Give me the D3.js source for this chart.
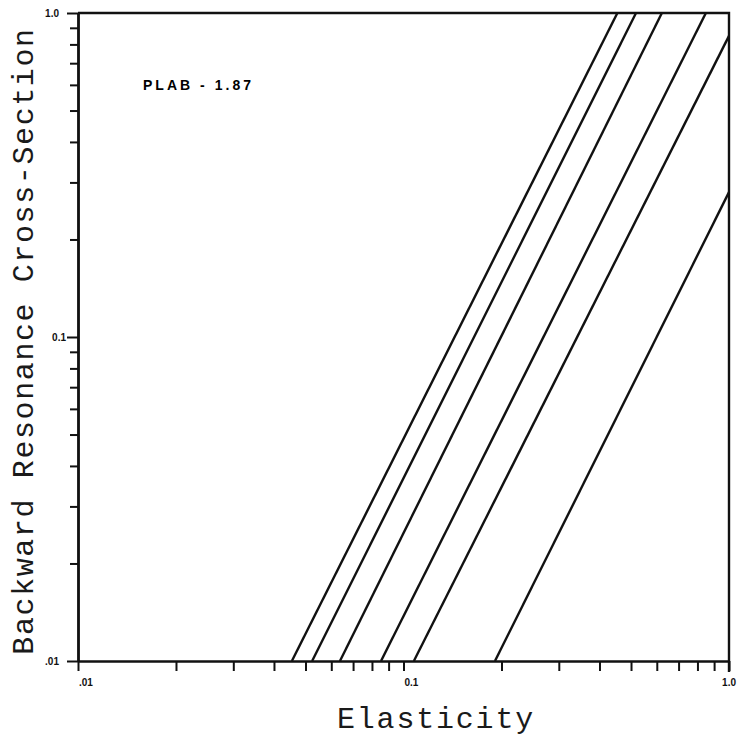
<!DOCTYPE html>
<html>
<head>
<meta charset="utf-8">
<script src="https://cdnjs.cloudflare.com/ajax/libs/d3/7.8.5/d3.min.js"></script>
<style>
  body { margin: 0; background: #fff; }
  .aText { font-family: 'Liberation Mono', monospace; fill: #1a1a1a; }
  .tickText { font-family: 'Liberation Sans', Arial, sans-serif; font-weight: bold; font-size: 10px; fill: #111; }
</style>
</head>
<body>
<div id="chart"></div>
<script>
// line endpoints: [elasticity, cross-section]
var lineNames = ['a', 'b', 'c', 'd', 'e', 'f'];
var lineStarts = [[0.0454, 0.01], [0.0524, 0.01], [0.0638, 0.01], [0.0853, 0.01], [0.1076, 0.01], [0.191, 0.01]];
var lineEnds = [[0.454, 1.0], [0.518, 1.0], [0.622, 1.0], [0.849, 1.0], [1.0, 0.85], [1.0, 0.28]];

var majorTicks = [0.01, 0.1, 1.0];
var minorTicks = [0.02, 0.03, 0.04, 0.05, 0.06, 0.07, 0.08, 0.09, 0.2, 0.3, 0.4, 0.5, 0.6, 0.7, 0.8, 0.9];
var xTickLabels = ['.01', '0.1', '1.0'];
var yTickLabels = ['.01', '0.1', '1.0'];

var svgWidth = 737;
var svgHeight = 738;

var chartMargin = { top: 13, right: 8, bottom: 77, left: 78 };
var chartWidth = svgWidth - chartMargin.left - chartMargin.right;
var chartHeight = svgHeight - chartMargin.top - chartMargin.bottom;

var svg = d3.select('#chart')
    .append('svg')
    .attr('width', svgWidth)
    .attr('height', svgHeight);

var chartGroup = svg.append('g')
    .attr('transform', `translate(${chartMargin.left}, ${chartMargin.top})`);

var xScale = d3.scaleLog().domain([0.01, 1.0]).range([0, chartWidth]);
var yScale = d3.scaleLog().domain([0.01, 1.0]).range([chartHeight, 0]);

// axes: ticks only, labels are placed by hand like the hand-lettered original
var bottomAxis = d3.axisBottom(xScale)
    .tickValues(majorTicks.concat(minorTicks))
    .tickSize(10)
    .tickSizeOuter(0)
    .tickFormat('');
var leftAxis = d3.axisLeft(yScale)
    .tickValues(minorTicks)
    .tickSize(8)
    .tickSizeOuter(0)
    .tickFormat('');
var leftMajor = d3.axisLeft(yScale)
    .tickValues(majorTicks)
    .tickSize(11)
    .tickSizeOuter(0)
    .tickFormat('');

var xAxisG = chartGroup.append('g').attr('transform', `translate(0,${chartHeight})`).call(bottomAxis);
var yAxisG = chartGroup.append('g').call(leftAxis);
var yMajorG = chartGroup.append('g').call(leftMajor);

[xAxisG, yAxisG, yMajorG].forEach(function(g) {
    g.selectAll('path').attr('stroke', '#111').attr('stroke-width', 2.4);
    g.selectAll('line').attr('stroke', '#111').attr('stroke-width', 2);
});

// top and right frame
chartGroup.append('path')
    .attr('d', `M${xScale(0.01)},${yScale(1.0)} H${xScale(1.0)} V${chartHeight + 11}`)
    .attr('fill', 'none')
    .attr('stroke', '#111')
    .attr('stroke-width', 2.4);

// the resonance lines
chartGroup.append('g').selectAll('line')
    .data(lineNames)
    .enter()
    .append('line')
    .attr('x1', (d, i) => xScale(lineStarts[i][0]))
    .attr('y1', (d, i) => yScale(lineStarts[i][1]))
    .attr('x2', (d, i) => xScale(lineEnds[i][0]))
    .attr('y2', (d, i) => yScale(lineEnds[i][1]))
    .attr('stroke', '#111')
    .attr('stroke-width', 2.4);

// tick labels
chartGroup.append('g').selectAll('text')
    .data(majorTicks)
    .enter()
    .append('text')
    .classed('tickText', true)
    .attr('text-anchor', d => d === 1.0 ? 'end' : 'start')
    .attr('x', d => d === 1.0 ? svgWidth - chartMargin.left - 1 : xScale(d) + 1)
    .attr('y', chartHeight + 25)
    .text((d, i) => xTickLabels[i]);

chartGroup.append('g').selectAll('text')
    .data(majorTicks)
    .enter()
    .append('text')
    .classed('tickText', true)
    .attr('text-anchor', 'end')
    .attr('x', d => d === 0.1 ? -12 : -19)
    .attr('y', d => yScale(d) + 4)
    .text((d, i) => yTickLabels[i]);

// annotation
chartGroup.append('text')
    .attr('x', 143 - chartMargin.left)
    .attr('y', 90 - chartMargin.top)
    .attr('textLength', 108)
    .attr('lengthAdjust', 'spacing')
    .style('font-family', 'Liberation Sans, Arial, sans-serif')
    .style('font-weight', 'bold')
    .style('font-size', '14px')
    .text('PLAB - 1.87');

// axis titles
svg.append('text')
    .classed('aText', true)
    .attr('x', 436)
    .attr('y', 728)
    .attr('text-anchor', 'middle')
    .style('font-size', '30px')
    .style('letter-spacing', '1.8px')
    .text('Elasticity');

svg.append('text')
    .classed('aText', true)
    .attr('transform', 'translate(33, 341) rotate(-90)')
    .attr('text-anchor', 'middle')
    .style('font-size', '30px')
    .style('letter-spacing', '1.6px')
    .text('Backward Resonance Cross-Section');
</script>
</body>
</html>
